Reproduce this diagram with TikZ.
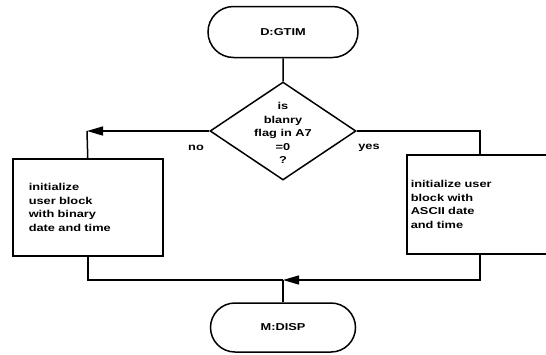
\documentclass[tikz,border=0pt]{standalone}
\usepackage{fontspec}
\setmainfont[FakeStretch=1.28]{Liberation Sans}
\usetikzlibrary{shapes.geometric,shapes.misc,arrows.meta}
\begin{document}
\begin{tikzpicture}[x=1pt,y=-1pt,
  every node/.style={font=\fontsize{10}{13.5}\selectfont\bfseries},
  term/.style={draw, rounded rectangle, line width=1.5pt, minimum width=150pt, minimum height=51pt, inner sep=0pt},
  decision/.style={draw, diamond, line width=1.5pt, minimum width=146pt, minimum height=98pt, inner sep=0pt},
  procbox/.style={draw, rectangle, line width=1.5pt, align=left, inner ysep=0pt},
  conn/.style={line width=1.5pt},
  tip/.style={-{Triangle[length=16pt,width=9pt]}},
]
\useasboundingbox (0,0) rectangle (546,354);
\clip (0,0) rectangle (546,354);
\node[term] (start) at (283,32) {D:GTIM};
\node[decision] (dec) at (283,131) {};
\node[align=center, inner sep=0pt] (dectext) at (283,133) {is\\blanry\\flag in A7\\=0\\?};
\node[procbox, anchor=north west, text width=118pt, inner xsep=16pt, minimum height=97pt] (bin) at (12,158) {initialize\\user block\\with binary\\date and time};
\node[procbox, anchor=north west, text width=212pt, inner xsep=4pt, minimum height=99pt] (asc) at (406,154) {initialize user\\block with\\ASCII date\\and time};
\node[term, minimum width=145pt, minimum height=49pt] (end) at (283,327.5) {M:DISP};
\node (no) at (196,148) {no};
\node (yes) at (369,148) {yes};
\coordinate (cl) at (87,131);
\coordinate (cr) at (480,131);
\coordinate (j) at (283,280);
\draw[conn] (start) -- (dec.north);
\draw[conn,tip] (dec.west) -- (cl);
\draw[conn] (cl) -- (bin.north);
\draw[conn] (dec.east) -- (cr) -- (cr |- asc.north);
\draw[conn] (bin.south) -- (bin.south |- j) -- (j);
\draw[conn,tip] (asc.south -| cr) -- (cr |- j) -- (j);
\draw[conn] (j) -- (end.north);
\end{tikzpicture}
\end{document}
